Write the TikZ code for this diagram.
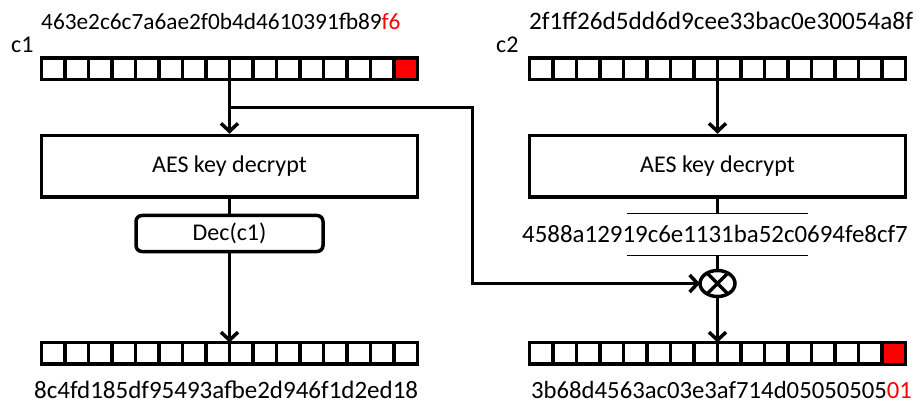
\documentclass[tikz,border=0pt]{standalone}
\usepackage{fontspec}
\setmainfont{Carlito}
\usetikzlibrary{arrows.meta,positioning,shapes.geometric,calc}
\tikzset{
reg/.style={draw,line width=3.5pt,outer sep=0pt,minimum width=376pt,minimum height=21.5pt,inner sep=0pt},
block/.style={draw,line width=3.5pt,minimum width=376pt,minimum height=61.5pt,inner sep=0pt,font=\fontsize{24}{28}\selectfont},
decblock/.style={draw,line width=3.5pt,rounded corners=6pt,minimum width=187pt,minimum height=36pt,inner sep=0pt,font=\fontsize{24}{28}\selectfont},
xorop/.style={draw,ellipse,line width=3.5pt,outer sep=0pt,minimum width=35pt,minimum height=26pt,inner sep=0pt},
hex/.style={inner sep=0pt,anchor=base west,font=\fontsize{#1}{28}\selectfont},
hex/.default=24,
link/.style={line width=3.5pt},
arrow/.style={-{Straight Barb[length=8pt,width=17pt]},line width=3.5pt},
thinbar/.style={line width=1pt}
}
\begin{document}
\begin{tikzpicture}[x=1pt,y=-1pt]
\useasboundingbox (0,0) rectangle (917,403);
% registers
\node[reg] (c1reg) at (229.5,69) {};
\node[reg] (c2reg) at (717.5,69) {};
\node[reg] (p1reg) at (229.5,353.3) {};
\node[reg] (p2reg) at (717.5,353.3) {};
\fill[red] ([xshift=1.5pt,yshift=-1.5pt]$(c1reg.north west)!15/16!(c1reg.north east)$) rectangle ([xshift=-1.5pt,yshift=1.5pt]c1reg.south east);
\fill[red] ([xshift=1.5pt,yshift=-1.5pt]$(p2reg.north west)!15/16!(p2reg.north east)$) rectangle ([xshift=-1.5pt,yshift=1.5pt]p2reg.south east);
\foreach \r in {c1reg,c2reg,p1reg,p2reg}
  \foreach \i in {1,...,15}
    \draw[link] ($(\r.north west)!\i/16!(\r.north east)$) -- ($(\r.south west)!\i/16!(\r.south east)$);
% blocks
\node[block,below=54pt of c1reg] (aes1) {AES key decrypt};
\node[block,below=54pt of c2reg] (aes2) {AES key decrypt};
\node[decblock,below=15pt of aes1] (dec) {Dec(c1)};
\node[xorop] (xor) at (717.5,283.5) {};
\draw[link] (xor.45) -- (xor.225) (xor.135) -- (xor.315);
% texts
\node[hex=23.3] (c1key) at (41,29.5) {463e2c6c7a6ae2f0b4d4610391fb89\textcolor{red}{f6}};
\node[hex] (c1name) at (11,52.7) {c1};
\node[hex=25.2] (c2key) at (529,29.5) {2f1ff26d5dd6d9cee33bac0e30054a8f};
\node[hex] (c2name) at (496,53) {c2};
\node[hex=24.9] (ivkey) at (522,243) {4588a12919c6e1131ba52c0694fe8cf7};
\node[hex=25] (p1key) at (34,398) {8c4fd185df95493afbe2d946f1d2ed18};
\node[hex=24.7] (p2key) at (531,398) {3b68d4563ac03e3af714d05050505\textcolor{red}{01}};
% connectors
\coordinate (split) at (229.5,107.5);
\coordinate (turn) at (472.5,107.5);
\coordinate (bartop) at (717.5,214);
\coordinate (barbot) at (717.5,255.7);
\draw[arrow] (c1reg) -- (aes1);
\draw[arrow] (split) -- (turn) |- (xor);
\draw[link] (aes1) -- (dec);
\draw[arrow] (dec) -- (p1reg);
\draw[arrow] (c2reg) -- (aes2);
\draw[link] (aes2) -- (bartop);
\draw[thinbar] ([xshift=-90.5pt]bartop) -- ([xshift=90.5pt]bartop);
\draw[thinbar] ([xshift=-90.5pt]barbot) -- ([xshift=90.5pt]barbot);
\draw[link] (barbot) -- (xor);
\draw[arrow] (xor) -- (p2reg);
\end{tikzpicture}
\end{document}
